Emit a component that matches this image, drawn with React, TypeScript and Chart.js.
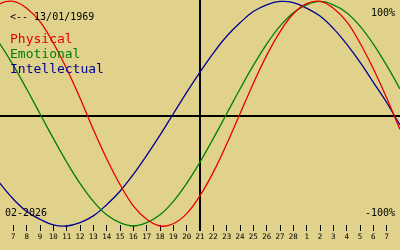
import { useEffect, useRef } from "react";
import { Chart, registerables } from "chart.js";

Chart.register(...registerables);

const BIRTH_LABEL = "<-- 13/01/1969";
const MONTH_LABEL = "02-2026";
const TOP_LABEL = "100%";
const BOTTOM_LABEL = "-100%";
const SERIES_NAMES = ["Physical", "Emotional", "Intellectual"];
const SERIES_COLORS = ["#e80000", "#008000", "#000098"];

// tick labels for day index 1..29 (7 Feb .. 7 Mar)
const DAY_LABELS = [
  "7", "8", "9", "10", "11", "12", "13", "14", "15", "16", "17", "18", "19", "20", "21",
  "22", "23", "24", "25", "26", "27", "28", "1", "2", "3", "4", "5", "6", "7",
];
const TODAY_INDEX = 15;
const AXIS_VALUE = -2;

// day index of each sample (0 = left edge, 30 = right edge)
const DAY_INDEX = [
  -1, 0, 1, 2, 3, 4, 5, 6, 7, 8, 9, 10, 11, 12, 13, 14, 15, 16,
  17, 18, 19, 20, 21, 22, 23, 24, 25, 26, 27, 28, 29, 30, 31,
];
const PHYSICAL = [
  89, 98, 100, 94, 82, 63, 40, 14, -14, -40, -63, -82, -94, -100, -98, -89, -73, -52,
  -27, 0, 27, 52, 73, 89, 98, 100, 94, 82, 63, 40, 14, -14, -40,
];
const EMOTIONAL = [
  78, 62, 43, 22, 0, -22, -43, -62, -78, -90, -97, -100, -97, -90, -78, -62, -43, -22,
  0, 22, 43, 62, 78, 90, 97, 100, 97, 90, 78, 62, 43, 22, 0,
];
const INTELLECTUAL = [
  -46, -62, -76, -87, -94, -99, -100, -97, -91, -81, -69, -54, -37, -19, 0, 19, 37, 54,
  69, 81, 91, 97, 100, 99, 94, 87, 76, 62, 46, 28, 10, -10, -28,
];

const SERIES = [PHYSICAL, EMOTIONAL, INTELLECTUAL];
const BG = "#e0d28a";
const MONO = "'DejaVu Sans Mono', monospace";

const overlay = {
  id: "overlay",
  beforeDraw(chart: any) {
    const ctx = chart.ctx;
    ctx.save();
    ctx.fillStyle = BG;
    ctx.fillRect(0, 0, chart.width, chart.height);
    ctx.restore();
  },
  beforeDatasetsDraw(chart: any) {
    const ctx = chart.ctx;
    const xs = chart.scales.x;
    const ys = chart.scales.y;
    const area = chart.chartArea;
    ctx.save();
    ctx.strokeStyle = "#000";
    ctx.lineWidth = 2;
    const y0 = Math.round(ys.getPixelForValue(AXIS_VALUE));
    ctx.beginPath();
    ctx.moveTo(0, y0);
    ctx.lineTo(chart.width, y0);
    ctx.stroke();
    const x0 = Math.round(xs.getPixelForValue(TODAY_INDEX));
    ctx.beginPath();
    ctx.moveTo(x0, 0);
    ctx.lineTo(x0, area.bottom + 6);
    ctx.stroke();
    ctx.restore();
  },
  afterDraw(chart: any) {
    const ctx = chart.ctx;
    ctx.save();
    ctx.textBaseline = "alphabetic";
    ctx.fillStyle = "#000";
    ctx.font = `10px ${MONO}`;
    ctx.textAlign = "left";
    ctx.fillText(BIRTH_LABEL, 10, 20);
    ctx.fillText(MONTH_LABEL, 5, 216);
    ctx.textAlign = "right";
    ctx.fillText(TOP_LABEL, 395, 16);
    ctx.fillText(BOTTOM_LABEL, 395, 216);
    ctx.textAlign = "left";
    ctx.font = `13px ${MONO}`;
    SERIES_NAMES.forEach((name, i) => {
      ctx.fillStyle = SERIES_COLORS[i];
      ctx.fillText(name, 10, 43 + i * 15);
    });
    ctx.restore();
  },
};

export default function App() {
  const ref = useRef<HTMLCanvasElement | null>(null);
  useEffect(() => {
    document.body.style.margin = "0";
    const canvas = ref.current;
    if (!canvas) return;
    const chart = new Chart(canvas, {
      type: "line",
      data: {
        datasets: SERIES.map((values, i) => ({
          label: SERIES_NAMES[i],
          data: values.map((v, j) => ({ x: DAY_INDEX[j], y: v })),
          borderColor: SERIES_COLORS[i],
          borderWidth: 1.3,
          pointRadius: 0,
          tension: 0.4,
          fill: false,
          clip: 4,
        })),
      },
      options: {
        animation: false,
        responsive: false,
        devicePixelRatio: 1,
        layout: { padding: 0 },
        plugins: { legend: { display: false }, tooltip: { enabled: false } },
        scales: {
          x: {
            type: "linear",
            min: 0,
            max: 30,
            afterBuildTicks: (s: any) => {
              s.ticks = DAY_LABELS.map((_, i) => ({ value: i + 1 }));
            },
            afterFit: (s: any) => {
              s.height = 25;
            },
            border: { display: false },
            grid: { drawOnChartArea: false, drawTicks: true, tickLength: 6, color: "#000", lineWidth: 1 },
            ticks: {
              autoSkip: false,
              maxRotation: 0,
              minRotation: 0,
              padding: 2,
              color: "#000",
              font: { family: MONO, size: 7.5 },
              callback: (_v: any, index: number) => DAY_LABELS[index] ?? "",
            },
          },
          y: { display: false, min: -99.1, max: 101.3 },
        },
      },
      plugins: [overlay],
    });
    return () => chart.destroy();
  }, []);
  return <canvas ref={ref} width={400} height={250} style={{ display: "block" }} />;
}
